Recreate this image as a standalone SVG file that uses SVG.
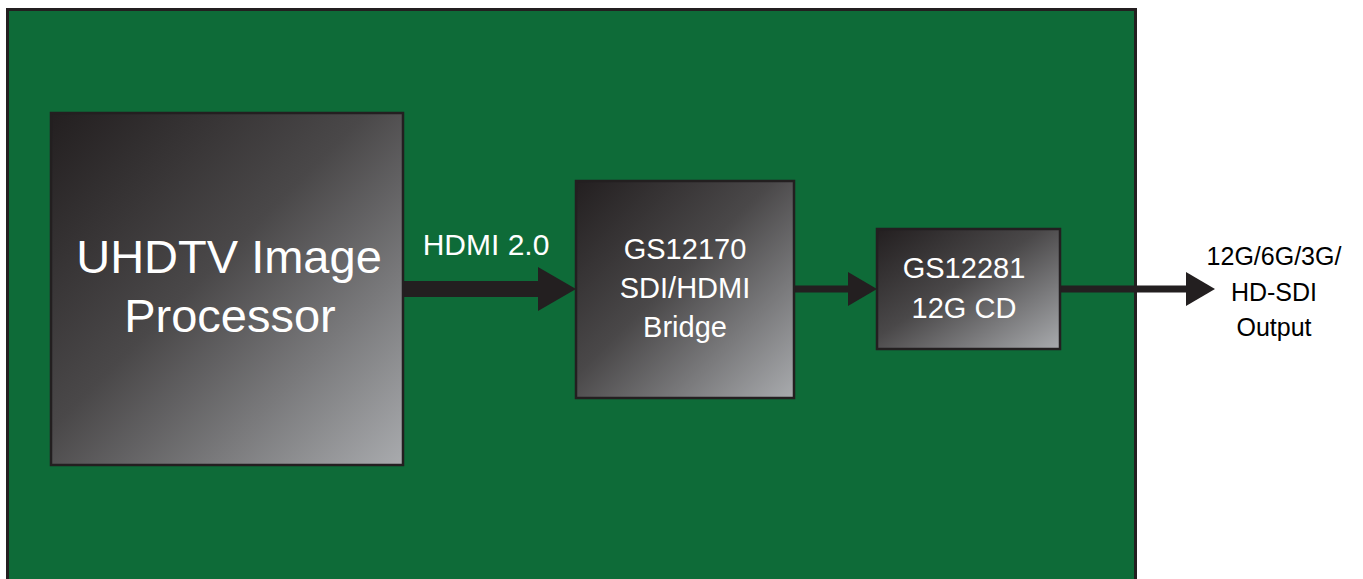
<svg xmlns="http://www.w3.org/2000/svg" width="1363" height="579" viewBox="0 0 1363 579">
<defs>
<linearGradient id="chip" x1="0" y1="0" x2="1" y2="1">
<stop offset="0" stop-color="#231f20"/>
<stop offset="0.45" stop-color="#4a4849"/>
<stop offset="1" stop-color="#a9abae"/>
</linearGradient>
<style>
.chip{fill:url(#chip);stroke:#231f20;stroke-width:2.5}
.wt{fill:#ffffff;font-family:"Liberation Sans",Arial,sans-serif;text-anchor:middle}
.bt{fill:#000000;font-family:"Liberation Sans",Arial,sans-serif;text-anchor:middle}
.ar{fill:#231f20}
</style>
</defs>
<rect width="1363" height="579" fill="#ffffff"/>
<g id="board">
<rect x="7.5" y="9.5" width="1128" height="620" fill="#0e6b38" stroke="#231f20" stroke-width="3"/>
</g>
<g id="connectors">
<rect class="ar" x="403" y="281" width="137" height="16"/>
<polygon class="ar" points="538,267 576,289 538,311"/>
<rect class="ar" x="794" y="285.5" width="56" height="7"/>
<polygon class="ar" points="848,272 877,289 848,306"/>
<rect class="ar" x="1060" y="285.5" width="128" height="7"/>
<polygon class="ar" points="1186,272 1215,289 1186,306"/>
</g>
<g id="uhdtv">
<rect class="chip" x="51" y="113" width="352" height="352"/>
<text class="wt" x="229" y="273" font-size="47">UHDTV Image</text>
<text class="wt" x="230" y="332" font-size="47">Processor</text>
</g>
<g id="hdmi-label">
<text class="wt" x="486" y="255" font-size="30">HDMI 2.0</text>
</g>
<g id="gs12170">
<rect class="chip" x="576" y="181" width="218" height="217"/>
<text class="wt" x="685" y="259" font-size="29">GS12170</text>
<text class="wt" x="685" y="298" font-size="29">SDI/HDMI</text>
<text class="wt" x="685" y="337" font-size="29">Bridge</text>
</g>
<g id="gs12281">
<rect class="chip" x="877" y="229" width="183" height="120"/>
<text class="wt" x="964" y="278" font-size="29">GS12281</text>
<text class="wt" x="964" y="318" font-size="29">12G CD</text>
</g>
<g id="output-label">
<text class="bt" x="1274" y="265" font-size="25">12G/6G/3G/</text>
<text class="bt" x="1274" y="301" font-size="25">HD-SDI</text>
<text class="bt" x="1274" y="336" font-size="25">Output</text>
</g>
</svg>
